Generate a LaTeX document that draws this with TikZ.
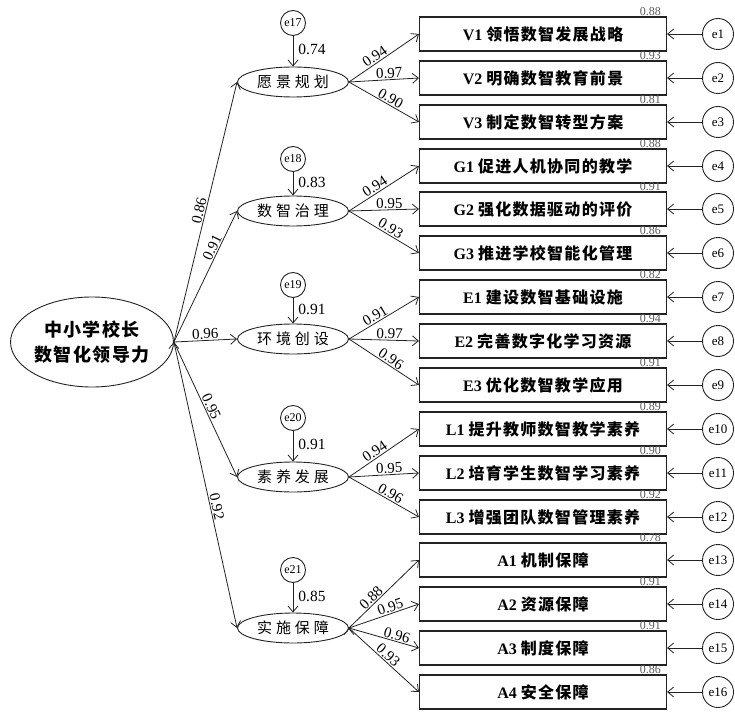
\documentclass[tikz,border=0pt]{standalone}
\usepackage{fontspec}
\setmainfont{Liberation Serif}
\newfontfamily\cjk[LetterSpace=8]{Noto Sans CJK SC}
\newfontfamily\cjkwide[LetterSpace=26]{Noto Sans CJK SC}
\usepackage{tikz}
\usetikzlibrary{arrows.meta,shapes.geometric,positioning}

\begin{document}
\begin{tikzpicture}
\definecolor{lineColour}{RGB}{35, 35, 35}
			\definecolor{smallNumColour}{RGB}{90, 90, 90}
			\tikzstyle{leader}=[ellipse, draw=lineColour, line width=0.9pt, minimum width=160pt, minimum height=90pt, inner sep=0pt, align=center, font=\cjk\bfseries\fontsize{18}{25}\selectfont]
			\tikzstyle{factor}=[ellipse, draw=lineColour, line width=0.9pt, minimum width=111pt, minimum height=30pt, inner sep=0pt, font=\cjkwide\fontsize{15}{18}\selectfont]
			\tikzstyle{item}=[rectangle, draw=lineColour, line width=1.1pt, minimum width=247pt, minimum height=34pt, inner sep=0pt, font=\bfseries\fontsize{16}{18}\selectfont]
			\tikzstyle{error}=[circle, draw=lineColour, line width=0.9pt, minimum size=31pt, inner sep=0pt, font=\fontsize{13}{14}\selectfont]
			\tikzstyle{disturb}=[circle, draw=lineColour, line width=0.9pt, minimum size=25pt, inner sep=0pt, font=\fontsize{12}{13}\selectfont]
			\tikzstyle{rsq}=[anchor=south east, xshift=-6pt, yshift=1pt, inner sep=0pt, text=smallNumColour, font=\mdseries\fontsize{12}{13}\selectfont]
			\tikzstyle{link}=[->, >={Straight Barb[length=6pt,width=10pt]}, draw=lineColour, line width=0.8pt]
			\tikzstyle{coef}=[sloped, above, pos=0.5, inner sep=1pt, font=\fontsize{15}{16}\selectfont]
			\tikzstyle{resid}=[right=5pt, pos=0.45, inner sep=0pt, font=\fontsize{15.5}{16}\selectfont]

			\useasboundingbox (0,0) rectangle (735pt,-711pt);

			\node [leader, xshift=92pt, yshift=-342pt] (lead) {中小学校长\\数智化领导力};

			\node [factor, xshift=293pt, yshift=-82pt] (vision) {愿景规划};
			\node [factor, xshift=293pt, yshift=-211pt] (govern) {数智治理};
			\node [factor, xshift=293pt, yshift=-339pt] (environ) {环境创设};
			\node [factor, xshift=293pt, yshift=-477pt] (literacy) {素养发展};
			\node [factor, xshift=293pt, yshift=-628pt] (support) {实施保障};

			\node [disturb, xshift=293pt, yshift=-23pt] (e17) {e17};
			\node [disturb, xshift=293pt, yshift=-159pt] (e18) {e18};
			\node [disturb, xshift=293pt, yshift=-285pt] (e19) {e19};
			\node [disturb, xshift=293pt, yshift=-418pt] (e20) {e20};
			\node [disturb, xshift=293pt, yshift=-570pt] (e21) {e21};

			\node [item, xshift=543pt, yshift=-34pt, label={[rsq]north east:0.88}] (V1) {V1 {\cjk 领悟数智发展战略}};
			\node [item, xshift=543pt, yshift=-78pt, label={[rsq]north east:0.93}] (V2) {V2 {\cjk 明确数智教育前景}};
			\node [item, xshift=543pt, yshift=-122pt, label={[rsq]north east:0.81}] (V3) {V3 {\cjk 制定数智转型方案}};
			\node [item, xshift=543pt, yshift=-166pt, label={[rsq]north east:0.88}] (G1) {G1 {\cjk 促进人机协同的教学}};
			\node [item, xshift=543pt, yshift=-209pt, label={[rsq]north east:0.91}] (G2) {G2 {\cjk 强化数据驱动的评价}};
			\node [item, xshift=543pt, yshift=-253pt, label={[rsq]north east:0.86}] (G3) {G3 {\cjk 推进学校智能化管理}};
			\node [item, xshift=543pt, yshift=-297pt, label={[rsq]north east:0.82}] (E1) {E1 {\cjk 建设数智基础设施}};
			\node [item, xshift=543pt, yshift=-341pt, label={[rsq]north east:0.94}] (E2) {E2 {\cjk 完善数字化学习资源}};
			\node [item, xshift=543pt, yshift=-385pt, label={[rsq]north east:0.91}] (E3) {E3 {\cjk 优化数智教学应用}};
			\node [item, xshift=543pt, yshift=-429pt, label={[rsq]north east:0.89}] (L1) {L1 {\cjk 提升教师数智教学素养}};
			\node [item, xshift=543pt, yshift=-473pt, label={[rsq]north east:0.90}] (L2) {L2 {\cjk 培育学生数智学习素养}};
			\node [item, xshift=543pt, yshift=-517pt, label={[rsq]north east:0.92}] (L3) {L3 {\cjk 增强团队数智管理素养}};
			\node [item, xshift=543pt, yshift=-560pt, label={[rsq]north east:0.78}] (A1) {A1 {\cjk 机制保障}};
			\node [item, xshift=543pt, yshift=-604pt, label={[rsq]north east:0.91}] (A2) {A2 {\cjk 资源保障}};
			\node [item, xshift=543pt, yshift=-648pt, label={[rsq]north east:0.91}] (A3) {A3 {\cjk 制度保障}};
			\node [item, xshift=543pt, yshift=-692pt, label={[rsq]north east:0.86}] (A4) {A4 {\cjk 安全保障}};

			\node [error, xshift=718pt, yshift=-34pt] (e1) {e1};
			\node [error, xshift=718pt, yshift=-78pt] (e2) {e2};
			\node [error, xshift=718pt, yshift=-122pt] (e3) {e3};
			\node [error, xshift=718pt, yshift=-166pt] (e4) {e4};
			\node [error, xshift=718pt, yshift=-209pt] (e5) {e5};
			\node [error, xshift=718pt, yshift=-253pt] (e6) {e6};
			\node [error, xshift=718pt, yshift=-297pt] (e7) {e7};
			\node [error, xshift=718pt, yshift=-341pt] (e8) {e8};
			\node [error, xshift=718pt, yshift=-385pt] (e9) {e9};
			\node [error, xshift=718pt, yshift=-429pt] (e10) {e10};
			\node [error, xshift=718pt, yshift=-473pt] (e11) {e11};
			\node [error, xshift=718pt, yshift=-517pt] (e12) {e12};
			\node [error, xshift=718pt, yshift=-560pt] (e13) {e13};
			\node [error, xshift=718pt, yshift=-604pt] (e14) {e14};
			\node [error, xshift=718pt, yshift=-648pt] (e15) {e15};
			\node [error, xshift=718pt, yshift=-692pt] (e16) {e16};

			\path[link]
			(lead.east) edge node[coef] {0.86} (vision.west)
			(lead.east) edge node[coef, pos=0.7] {0.91} (govern.west)
			(lead.east) edge node[coef] {0.96} (environ.west)
			(lead.east) edge node[coef] {0.95} (literacy.west)
			(lead.east) edge node[coef, pos=0.58] {0.92} (support.west);

			\path[link]
			(e17) edge node[resid] {0.74} (vision)
			(e18) edge node[resid] {0.83} (govern)
			(e19) edge node[resid] {0.91} (environ)
			(e20) edge node[resid] {0.91} (literacy)
			(e21) edge node[resid] {0.85} (support);

			\path[link]
			(vision.east) edge node[coef, pos=0.42] {0.94} (V1.west)
			(vision.east) edge node[coef, pos=0.58] {0.97} (V2.west)
			(vision.east) edge node[coef, pos=0.55] {0.90} (V3.west)
			(govern.east) edge node[coef, pos=0.42] {0.94} (G1.west)
			(govern.east) edge node[coef, pos=0.58] {0.95} (G2.west)
			(govern.east) edge node[coef, pos=0.55] {0.93} (G3.west)
			(environ.east) edge node[coef, pos=0.42] {0.91} (E1.west)
			(environ.east) edge node[coef, pos=0.58] {0.97} (E2.west)
			(environ.east) edge node[coef, pos=0.55] {0.96} (E3.west)
			(literacy.east) edge node[coef, pos=0.42] {0.94} (L1.west)
			(literacy.east) edge node[coef, pos=0.58] {0.95} (L2.west)
			(literacy.east) edge node[coef, pos=0.55] {0.96} (L3.west)
			(support.east) edge node[coef, pos=0.38] {0.88} (A1.west)
			(support.east) edge node[coef, pos=0.62] {0.95} (A2.west)
			(support.east) edge node[coef, pos=0.66] {0.96} (A3.west)
			(support.east) edge node[coef, pos=0.5] {0.93} (A4.west);

			\path[link]
			(e1) edge (V1) (e2) edge (V2) (e3) edge (V3)
			(e4) edge (G1) (e5) edge (G2) (e6) edge (G3)
			(e7) edge (E1) (e8) edge (E2) (e9) edge (E3)
			(e10) edge (L1) (e11) edge (L2) (e12) edge (L3)
			(e13) edge (A1) (e14) edge (A2) (e15) edge (A3) (e16) edge (A4);
		\end{tikzpicture}
\end{document}
